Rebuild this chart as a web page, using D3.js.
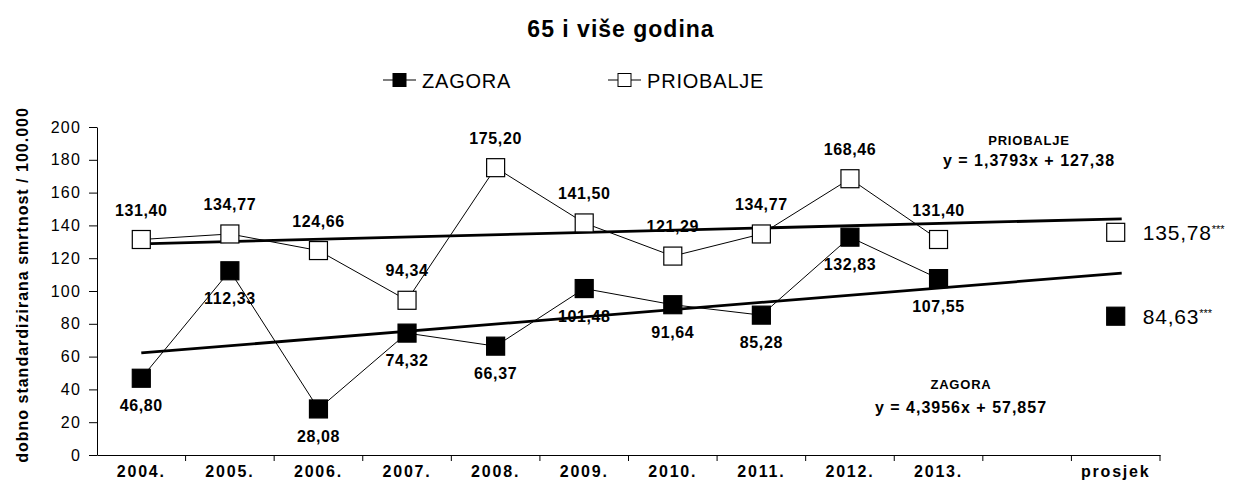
<!DOCTYPE html>
<html>
<head>
<meta charset="utf-8">
<script src="https://cdn.jsdelivr.net/npm/d3@7"></script>
<style>
  body { margin: 0; background: #fff; }
  text { font-family: Arial, "Liberation Sans", sans-serif; fill: #000; }
</style>
</head>
<body>
<div id="chart"></div>
<script>
// Data
const categories = ["2004.", "2005.", "2006.", "2007.", "2008.", "2009.", "2010.", "2011.", "2012.", "2013.", "", "prosjek"];
const years = categories.slice(0, 10);
const zagora = [46.80, 112.33, 28.08, 74.32, 66.37, 101.48, 91.64, 85.28, 132.83, 107.55];
const priobalje = [131.40, 134.77, 124.66, 94.34, 175.20, 141.50, 121.29, 134.77, 168.46, 131.40];
const avgZagora = 84.63;
const avgPriobalje = 135.78;
const trendZagora = { a: 4.3956, b: 57.857, label: "y = 4,3956x + 57,857" };
const trendPriobalje = { a: 1.3793, b: 127.38, label: "y = 1,3793x + 127,38" };
const yTicks = [0, 20, 40, 60, 80, 100, 120, 140, 160, 180, 200];

const fmt = v => v.toFixed(2).replace(".", ",");

const W = 1239, H = 497;
const margin = { top: 127, right: 79, bottom: 42, left: 97 };
const width = W - margin.left - margin.right;
const height = H - margin.top - margin.bottom;

const svg = d3.select("#chart").append("svg")
  .attr("width", W).attr("height", H);

const g = svg.append("g")
  .attr("transform", `translate(${margin.left},${margin.top})`);

const x = d3.scaleBand().domain(categories).range([0, width]);
const y = d3.scaleLinear().domain([0, 200]).range([height, 0]);
const cx = c => x(c) + x.bandwidth() / 2;
// trend x (1-based index) -> pixel
const xi = d3.scaleLinear().domain([1, 12]).range([cx(categories[0]), cx(categories[11])]);

// Title
svg.append("text")
  .attr("x", 621).attr("y", 37)
  .attr("text-anchor", "middle")
  .style("font-size", "23px").style("font-weight", "bold").style("letter-spacing", "1px")
  .text("65 i više godina");

// Legend
const legend = [
  { name: "ZAGORA", fill: "#000", x: 383 },
  { name: "PRIOBALJE", fill: "#fff", x: 608 }
];
legend.forEach(l => {
  const lg = svg.append("g").attr("transform", `translate(${l.x},80)`);
  lg.append("line").attr("x1", 0).attr("x2", 33).attr("stroke", "#000").attr("stroke-width", 1.2);
  lg.append("rect").attr("x", 10).attr("y", -6.5).attr("width", 13).attr("height", 13)
    .attr("fill", l.fill).attr("stroke", "#000");
  lg.append("text").attr("x", 39).attr("y", 7.5)
    .style("font-size", "20px").style("letter-spacing", "0.8px").text(l.name);
});

// Y axis
const yAxis = g.append("g")
  .call(d3.axisLeft(y).tickValues(yTicks).tickSize(8).tickSizeOuter(0).tickPadding(8));
yAxis.selectAll("text").style("font-size", "16px").style("letter-spacing", "1.2px")
  .style("font-family", "Arial, 'Liberation Sans', sans-serif");
yAxis.select(".domain").attr("stroke", "#000");

// X axis
const xAxis = g.append("g")
  .attr("transform", `translate(0,${height})`)
  .call(d3.axisBottom(x).tickSize(0).tickPadding(11));
xAxis.selectAll("text").style("font-size", "16px").style("font-weight", "bold")
  .style("letter-spacing", "1.8px")
  .style("font-family", "Arial, 'Liberation Sans', sans-serif");
xAxis.select(".domain").attr("stroke", "#000");
// ticks at category boundaries
xAxis.selectAll(".bound").data(categories).enter().append("line")
  .attr("class", "bound")
  .attr("x1", d => x(d) + x.bandwidth()).attr("x2", d => x(d) + x.bandwidth())
  .attr("y1", 0).attr("y2", 6).attr("stroke", "#000");

// Y axis label
svg.append("text")
  .attr("transform", `translate(28,${margin.top + height / 2 - 6}) rotate(-90)`)
  .attr("text-anchor", "middle")
  .style("font-size", "16px").style("font-weight", "bold").style("letter-spacing", "1px")
  .text("dobno standardizirana smrtnost / 100.000");

// Series lines
const line = d3.line().x((d, i) => cx(years[i])).y(d => y(d));
[zagora, priobalje].forEach(s => {
  g.append("path").datum(s).attr("d", line)
    .attr("fill", "none").attr("stroke", "#000").attr("stroke-width", 1);
});

// Trend lines
[trendZagora, trendPriobalje].forEach(t => {
  g.append("line")
    .attr("x1", xi(1)).attr("y1", y(t.a * 1 + t.b))
    .attr("x2", xi(12) + 6).attr("y2", y(t.a * 12.07 + t.b))
    .attr("stroke", "#000").attr("stroke-width", 2.8);
});

// Markers
const ms = 18;
function markers(data, cats, fill) {
  g.selectAll(null).data(data).enter().append("rect")
    .attr("x", (d, i) => cx(cats[i]) - ms / 2)
    .attr("y", d => y(d) - ms / 2)
    .attr("width", ms).attr("height", ms)
    .attr("fill", fill).attr("stroke", "#000").attr("stroke-width", 1.2);
}
markers(priobalje, years, "#fff");
markers(zagora, years, "#000");
markers([avgPriobalje], ["prosjek"], "#fff");
markers([avgZagora], ["prosjek"], "#000");

// Data labels
g.selectAll(null).data(priobalje).enter().append("text")
  .attr("x", (d, i) => cx(years[i]))
  .attr("y", d => y(d) - 24)
  .attr("text-anchor", "middle")
  .style("font-size", "16px").style("font-weight", "bold").style("letter-spacing", "0.6px")
  .text(d => fmt(d));
g.selectAll(null).data(zagora).enter().append("text")
  .attr("x", (d, i) => cx(years[i]))
  .attr("y", d => y(d) + 33)
  .attr("text-anchor", "middle")
  .style("font-size", "16px").style("font-weight", "bold").style("letter-spacing", "0.6px")
  .text(d => fmt(d));

// Average labels
[avgPriobalje, avgZagora].forEach(v => {
  const t = g.append("text")
    .attr("x", cx("prosjek") + 27)
    .attr("y", y(v) + 8)
    .style("font-size", "21px").style("letter-spacing", "0.8px");
  t.append("tspan").text(fmt(v));
  t.append("tspan").attr("dy", -7).style("font-size", "11px").style("letter-spacing", "0px").text("***");
});

// Trend annotations
const ann = [
  { name: "PRIOBALJE", t: trendPriobalje, x: 1029, y1: 145, y2: 166 },
  { name: "ZAGORA", t: trendZagora, x: 961, y1: 389, y2: 413 }
];
ann.forEach(a => {
  svg.append("text").attr("x", a.x).attr("y", a.y1).attr("text-anchor", "middle")
    .style("font-size", "13px").style("font-weight", "bold").style("letter-spacing", "0.8px").text(a.name);
  svg.append("text").attr("x", a.x).attr("y", a.y2).attr("text-anchor", "middle")
    .style("font-size", "16px").style("font-weight", "bold").style("letter-spacing", "1px").text(a.t.label);
});
</script>
</body>
</html>
